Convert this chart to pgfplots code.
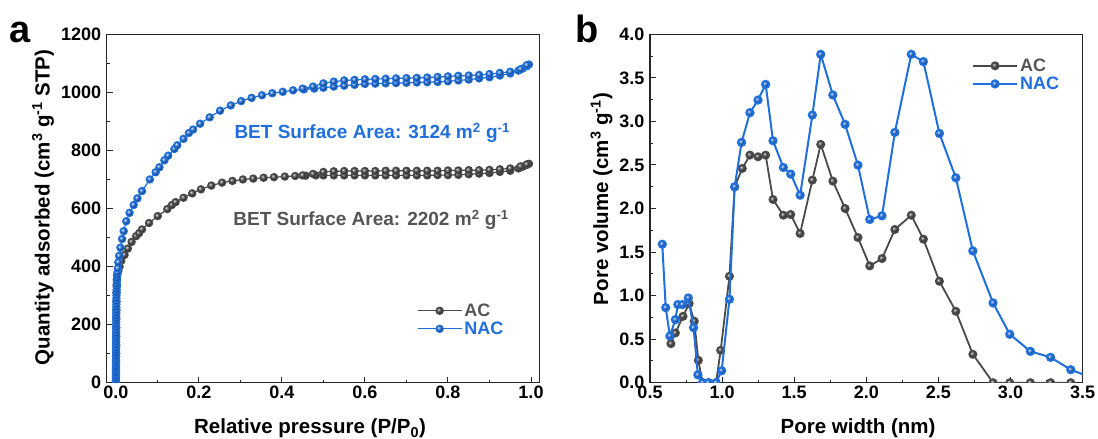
\documentclass[border=0pt]{standalone}
\usepackage{pgfplots}
\pgfplotsset{compat=1.18}
\usepackage{fontspec}
\setmainfont{Liberation Sans}
\definecolor{nacblue}{HTML}{1F6FDC}
\definecolor{acgray}{HTML}{4A4A4A}
\definecolor{acgraytext}{HTML}{555555}
\newcommand{\fs}[1]{\fontsize{#1}{#1}\selectfont}

\pgfplotstableread{
x y
0.0002 2
0.0003 20
0.0004 45
0.0005 70
0.0006 100
0.0007 130
0.0008 160
0.0009 190
0.0010 220
0.0012 250
0.0014 280
0.0016 310
0.0020 335
0.0026 355
0.0035 372
0.006 385
0.009 400
0.013 420
0.021 440
0.029 462
0.038 485
0.049 505
0.056 515
0.063 528
0.080 550
0.101 574
0.124 598
0.135 612
0.144 622
0.163 637
0.184 652
0.205 666
0.230 679
0.256 689
0.281 695
0.306 700
0.331 703
0.356 706
0.381 708
0.407 710
0.432 712
0.457 713
0.482 714
0.500 714
0.525 714
0.550 714
0.575 714
0.600 714
0.625 714
0.650 714
0.675 714
0.700 714
0.725 714
0.750 714
0.775 715
0.800 715
0.825 716
0.850 718
0.875 720
0.900 722
0.925 726
0.950 730
0.970 738
0.980 744
0.990 750
0.995 754
0.990 752
0.975 745
0.950 738
0.925 735
0.900 733
0.875 732
0.850 732
0.825 731
0.800 731
0.775 730
0.750 730
0.725 730
0.700 730
0.675 730
0.650 730
0.625 729
0.600 729
0.575 729
0.550 729
0.525 728
0.500 726
0.475 719
0.450 714
}\ACiso

\pgfplotstableread{
x y
0.0002 0
0.0002 8
0.0002 16
0.0003 24
0.0003 32
0.0003 40
0.0003 48
0.0004 56
0.0004 64
0.0004 72
0.0004 80
0.0005 90
0.0005 100
0.0005 110
0.0006 120
0.0006 130
0.0006 140
0.0007 150
0.0007 160
0.0007 170
0.0008 180
0.0008 190
0.0009 200
0.0009 210
0.0010 220
0.0010 230
0.0011 240
0.0012 250
0.0012 260
0.0013 270
0.0014 280
0.0015 290
0.0016 300
0.0017 310
0.0019 320
0.0021 330
0.0023 340
0.0026 350
0.0030 360
0.0034 370
0.0040 380
0.0048 394
0.006 415
0.008 437
0.011 465
0.015 495
0.019 522
0.025 556
0.033 585
0.043 612
0.052 635
0.063 660
0.082 700
0.096 725
0.105 742
0.117 766
0.126 782
0.141 805
0.148 818
0.163 840
0.176 860
0.186 872
0.203 892
0.226 914
0.251 937
0.277 955
0.302 970
0.327 981
0.352 990
0.377 997
0.402 1002
0.427 1007
0.453 1010
0.478 1013
0.500 1016
0.525 1020
0.550 1023
0.575 1026
0.600 1029
0.625 1030
0.650 1031
0.675 1032
0.700 1033
0.725 1034
0.750 1035
0.775 1036
0.800 1038
0.825 1041
0.850 1044
0.875 1048
0.900 1052
0.925 1058
0.950 1065
0.970 1075
0.980 1082
0.990 1090
0.995 1096
0.990 1094
0.975 1080
0.950 1071
0.925 1067
0.900 1063
0.875 1060
0.850 1058
0.825 1057
0.800 1055
0.775 1053
0.750 1051
0.725 1050
0.700 1049
0.675 1048
0.650 1047
0.625 1046
0.600 1045
0.575 1043
0.550 1041
0.525 1037
0.500 1031
0.475 1020
0.450 1013
}\NACiso

\pgfplotstableread{
x y
0.645 0.448
0.676 0.571
0.729 0.762
0.771 0.908
0.807 0.705
0.835 0.257
0.865 0.0
0.905 0.0
0.958 0.0
0.990 0.372
1.051 1.222
1.087 2.249
1.140 2.46
1.193 2.613
1.249 2.594
1.302 2.613
1.353 2.103
1.425 1.923
1.476 1.931
1.541 1.713
1.626 2.326
1.684 2.736
1.768 2.314
1.853 2.0
1.942 1.667
2.024 1.341
2.109 1.425
2.198 1.759
2.312 1.923
2.396 1.648
2.507 1.165
2.621 0.820
2.739 0.326
2.879 0
2.995 0
3.138 0
3.278 0
3.418 0
}\ACpsd

\pgfplotstableread{
x y
0.585 1.59
0.609 0.862
0.638 0.536
0.676 0.724
0.693 0.897
0.725 0.897
0.766 0.973
0.802 0.632
0.832 0.090
0.865 0.0
0.905 0.0
0.958 0.0
0.997 0.138
1.051 0.958
1.087 2.249
1.135 2.759
1.193 3.10
1.249 3.245
1.302 3.425
1.353 2.778
1.425 2.471
1.476 2.395
1.541 2.153
1.626 3.073
1.684 3.770
1.768 3.303
1.853 2.966
1.942 2.498
2.024 1.874
2.109 1.916
2.198 2.874
2.312 3.770
2.396 3.686
2.507 2.862
2.621 2.352
2.739 1.513
2.879 0.916
2.995 0.556
3.138 0.360
3.278 0.291
3.418 0.149
3.56 0.06
}\NACpsd

\pgfplotsset{
  panel/.style={
    scale only axis, width=432.6pt, height=348.4pt, anchor=south west,
    axis line style={line width=1.2pt, black!85},
    tick style={line width=1pt, black!85},
    tick align=inside, major tick length=6pt, minor tick length=3pt,
    xtick pos=left, ytick pos=left,
    tick label style={font=\bfseries\fs{18}},
    label style={font=\bfseries\fs{20.5}},
    scaled ticks=false,
    clip marker paths=true,
    legend image code/.code={\draw[mark repeat=2,mark phase=2,##1] plot coordinates {(0pt,0pt) (22pt,0pt) (44pt,0pt)};},
    legend cell align=left,
  },
  acstyle/.style={acgray, line width=1.4pt, mark=ball, mark size=3.6pt, mark options={ball color=acgray}},
  nacstyle/.style={nacblue, line width=1.4pt, mark=ball, mark size=3.6pt, mark options={ball color=nacblue}},
}

\begin{document}
\begin{tikzpicture}[font=\bfseries]
\useasboundingbox (0,0) rectangle (1098pt,439pt);

\node[anchor=base west, inner sep=0pt, font=\bfseries\fs{38}] at (9pt,396pt) {a};
\node[anchor=base west, inner sep=0pt, font=\bfseries\fs{38}] at (575pt,396pt) {b};

\begin{axis}[panel, at={(106.7pt,56.3pt)},
  xmin=-0.022, xmax=1.02, ymin=0, ymax=1200,
  xtick={0,0.2,0.4,0.6,0.8,1}, ytick={0,200,400,600,800,1000,1200},
  minor x tick num=1, minor y tick num=1,
  xticklabel style={/pgf/number format/.cd, fixed, fixed zerofill, precision=1, assume math mode=true},
  yticklabel style={xshift=-2pt, /pgf/number format/.cd, fixed, precision=0, 1000 sep={}, assume math mode=true},
  xlabel={Relative pressure (P/P\textsubscript{0})},
  ylabel={Quantity adsorbed (cm\textsuperscript{3} g\textsuperscript{-1} STP)},
  xlabel style={at={(axis description cs:0.47,-0.147)}, anchor=base},
  ylabel style={at={(axis description cs:-0.147,0.503)}, anchor=center},
  legend style={at={(axis description cs:0.717,0.233)}, anchor=north west, draw=none, fill=none, inner sep=0pt, row sep=0pt, font=\bfseries\fs{18}},
]
\addplot[acstyle, line width=1.2pt] table[x=x,y=y] {\ACiso};
\addlegendentry{\textcolor{acgraytext}{AC}}
\addplot[nacstyle, line width=1.2pt] table[x=x,y=y] {\NACiso};
\addlegendentry{\textcolor{nacblue}{NAC}}
\node[text=nacblue, font=\bfseries\fs{19}] at (axis cs:0.6176,860) {BET Surface Area: 3124 m\textsuperscript{2} g\textsuperscript{-1}};
\node[text=acgraytext, font=\bfseries\fs{19}] at (axis cs:0.615,560) {BET Surface Area: 2202 m\textsuperscript{2} g\textsuperscript{-1}};
\end{axis}

\begin{axis}[panel, at={(650pt,56.3pt)},
  xmin=0.5, xmax=3.5, ymin=0, ymax=4,
  xtick={0.5,1,1.5,2,2.5,3,3.5}, ytick={0,0.5,1,1.5,2,2.5,3,3.5,4},
  minor x tick num=1, minor y tick num=1,
  xticklabel style={/pgf/number format/.cd, fixed, fixed zerofill, precision=1, assume math mode=true},
  yticklabel style={xshift=-2pt, /pgf/number format/.cd, fixed, fixed zerofill, precision=1, assume math mode=true},
  xlabel={Pore width (nm)},
  ylabel={Pore volume (cm\textsuperscript{3} g\textsuperscript{-1})},
  xlabel style={at={(axis description cs:0.481,-0.147)}, anchor=base},
  ylabel style={at={(axis description cs:-0.112,0.527)}, anchor=center},
  legend style={at={(axis description cs:0.744,0.936)}, anchor=north west, draw=none, fill=none, inner sep=0pt, row sep=0pt, font=\bfseries\fs{18}},
]
\addplot[acstyle, line width=1.8pt] table[x=x,y=y] {\ACpsd};
\addlegendentry{\textcolor{acgraytext}{AC}}
\addplot[nacstyle, line width=2pt] table[x=x,y=y] {\NACpsd};
\addlegendentry{\textcolor{nacblue}{NAC}}
\end{axis}
\end{tikzpicture}
\end{document}
